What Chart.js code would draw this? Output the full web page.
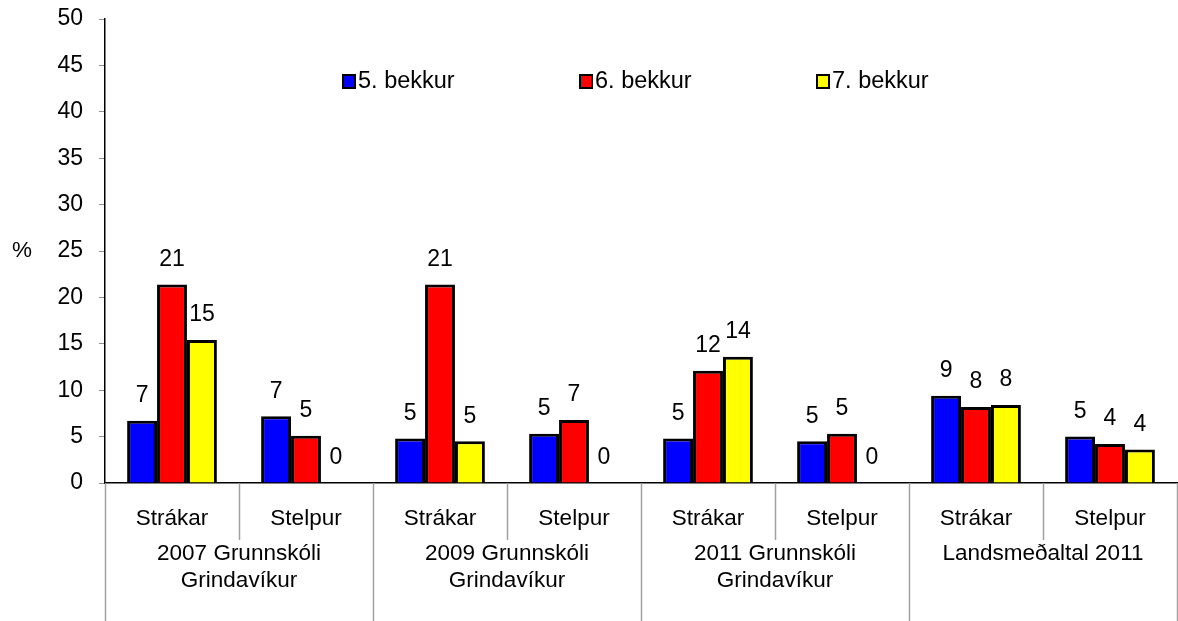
<!DOCTYPE html>
<html>
<head>
<meta charset="utf-8">
<script src="https://cdn.jsdelivr.net/npm/chart.js@4/dist/chart.umd.min.js"></script>
<style>
  html, body { margin: 0; padding: 0; background: #fff; }
  #wrap { width: 1178px; height: 621px; position: relative; }
</style>
</head>
<body>
<div id="wrap"><canvas id="chart"></canvas></div>
<script>
const subLabels = ["Strákar", "Stelpur", "Strákar", "Stelpur", "Strákar", "Stelpur", "Strákar", "Stelpur"];
const groupLabels = [
  ["2007 Grunnskóli", "Grindavíkur"],
  ["2009 Grunnskóli", "Grindavíkur"],
  ["2011 Grunnskóli", "Grindavíkur"],
  ["Landsmeðaltal 2011"]
];
const seriesNames = ["5. bekkur", "6. bekkur", "7. bekkur"];
const bekkur5 = [6.7, 7.2, 4.8, 5.3, 4.8, 4.5, 9.4, 5.0];
const bekkur6 = [21.4, 5.1, 21.4, 6.8, 12.1, 5.3, 8.2, 4.2];
const bekkur7 = [15.4, 0, 4.5, 0, 13.6, 0, 8.4, 3.6];
const yTicks = [0, 5, 10, 15, 20, 25, 30, 35, 40, 45, 50];
const colors = ["#0000ff", "#ff0000", "#ffff00"];

const FONT = "'Liberation Sans', Arial, sans-serif";

// value labels above the bars
const valueLabels = {
  id: "valueLabels",
  afterDatasetsDraw(chart) {
    const ctx = chart.ctx;
    ctx.save();
    ctx.font = "23px " + FONT;
    ctx.fillStyle = "#000";
    ctx.textAlign = "center";
    ctx.textBaseline = "middle";
    chart.data.datasets.forEach((ds, i) => {
      chart.getDatasetMeta(i).data.forEach((bar, j) => {
        ctx.fillText(Math.round(ds.data[j]), bar.x, bar.y - 25);
      });
    });
    ctx.restore();
  }
};

// two level category axis + separators
const groupAxis = {
  id: "groupAxis",
  afterDraw(chart) {
    const ctx = chart.ctx;
    const x = chart.scales.x;
    const area = chart.chartArea;
    const step = x.getPixelForValue(1) - x.getPixelForValue(0);
    ctx.save();
    ctx.strokeStyle = "#a0a0a0";
    ctx.lineWidth = 1.5;
    for (let i = 0; i <= subLabels.length; i++) {
      const px = Math.round(x.getPixelForValue(i) - step / 2) + 0.5;
      ctx.beginPath();
      ctx.moveTo(px, area.bottom);
      ctx.lineTo(px, i % 2 === 0 ? chart.height : area.bottom + 57);
      ctx.stroke();
    }
    ctx.font = "22.5px " + FONT;
    ctx.fillStyle = "#000";
    ctx.textAlign = "center";
    ctx.textBaseline = "middle";
    subLabels.forEach((lbl, i) => {
      ctx.fillText(lbl, x.getPixelForValue(i), area.bottom + 36);
    });
    groupLabels.forEach((lines, g) => {
      const cx = (x.getPixelForValue(g * 2) + x.getPixelForValue(g * 2 + 1)) / 2;
      lines.forEach((ln, k) => {
        ctx.fillText(ln, cx, area.bottom + 71 + k * 27);
      });
    });
    // y label
    ctx.fillText("%", 22, chart.scales.y.getPixelForValue(25));

    // legend
    const legendX = [343, 580, 817];
    ctx.font = "23.5px " + FONT;
    ctx.textAlign = "left";
    seriesNames.forEach((name, i) => {
      ctx.fillStyle = colors[i];
      ctx.fillRect(legendX[i], 75, 12, 13);
      ctx.strokeStyle = "#000";
      ctx.lineWidth = 2;
      ctx.strokeRect(legendX[i], 75, 12, 13);
      ctx.fillStyle = "#000";
      ctx.fillText(name, legendX[i] + 15, 82);
    });
    ctx.restore();
  }
};

new Chart(document.getElementById("chart"), {
  type: "bar",
  data: {
    labels: subLabels,
    datasets: [
      { label: seriesNames[0], data: bekkur5, backgroundColor: colors[0] },
      { label: seriesNames[1], data: bekkur6, backgroundColor: colors[1] },
      { label: seriesNames[2], data: bekkur7, backgroundColor: colors[2] }
    ].map(d => Object.assign(d, {
      borderColor: "#000",
      borderWidth: 3,
      categoryPercentage: 0.67,
      barPercentage: 1
    }))
  },
  options: {
    responsive: true,
    maintainAspectRatio: false,
    animation: false,
    layout: { padding: { left: 0, right: 1, top: 19, bottom: 130 } },
    plugins: { legend: { display: false }, tooltip: { enabled: false } },
    scales: {
      x: {
        ticks: { display: false },
        grid: { display: false },
        border: { display: true, color: "#000", width: 1.5 }
      },
      y: {
        min: 0,
        max: 50,
        afterBuildTicks: s => { s.ticks = yTicks.map(v => ({ value: v })); },
        afterFit: s => { s.width = 105; s.paddingTop = 0; s.paddingBottom = 0; },
        ticks: { color: "#000", font: { family: FONT, size: 23 }, padding: 16 },
        grid: { drawOnChartArea: false, drawTicks: true, tickLength: 6, color: "#909090" },
        border: { display: true, color: "#000", width: 1.5 }
      }
    }
  },
  plugins: [valueLabels, groupAxis]
});
</script>
</body>
</html>
